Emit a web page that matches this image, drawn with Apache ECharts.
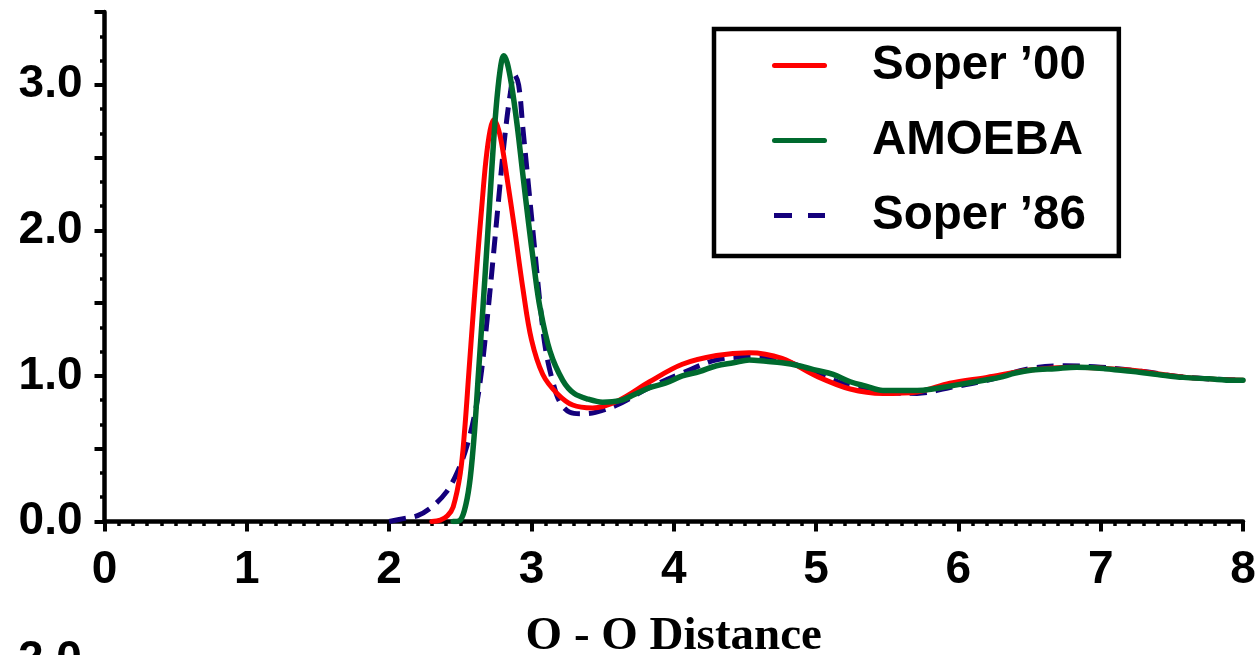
<!DOCTYPE html>
<html>
<head>
<meta charset="utf-8">
<script src="https://cdn.jsdelivr.net/npm/echarts@6/dist/echarts.min.js"></script>
<style>
html,body{margin:0;padding:0;background:#fff;}
#chart{width:1258px;height:655px;}
</style>
</head>
<body>
<div id="chart"></div>
<script>
// Soper '00 (red)
var soper00R = [2.30, 2.36, 2.41, 2.45, 2.50, 2.53, 2.56, 2.59, 2.62, 2.65, 2.68, 2.71, 2.735, 2.76, 2.79, 2.83, 2.88, 2.94, 3.00, 3.08, 3.18, 3.29, 3.43, 3.61, 3.83, 4.06, 4.30, 4.53, 4.76, 5.00, 5.24, 5.47, 5.71, 5.94, 6.20, 6.50, 6.80, 7.20, 7.60, 8.00];
var soper00G = [0.00, 0.01, 0.04, 0.10, 0.33, 0.62, 1.02, 1.42, 1.80, 2.15, 2.48, 2.69, 2.76, 2.72, 2.60, 2.35, 2.02, 1.60, 1.25, 1.01, 0.88, 0.80, 0.78, 0.83, 0.96, 1.08, 1.14, 1.16, 1.12, 1.00, 0.91, 0.88, 0.89, 0.95, 0.99, 1.04, 1.06, 1.04, 0.99, 0.97];

// AMOEBA (green)
var amoebaR = [2.45, 2.50, 2.54, 2.57, 2.60, 2.63, 2.66, 2.69, 2.72, 2.75, 2.78, 2.805, 2.83, 2.86, 2.90, 2.94, 2.98, 3.02, 3.06, 3.13, 3.22, 3.30, 3.40, 3.50, 3.62, 3.72, 3.83, 3.94, 4.06, 4.18, 4.30, 4.42, 4.53, 4.65, 4.76, 4.88, 5.00, 5.12, 5.24, 5.35, 5.47, 5.59, 5.71, 5.82, 5.94, 6.06, 6.18, 6.29, 6.40, 6.52, 6.68, 6.83, 7.03, 7.23, 7.40, 7.58, 7.76, 7.93, 8.00];
var amoebaG = [0.00, 0.01, 0.12, 0.30, 0.62, 1.05, 1.48, 1.93, 2.40, 2.82, 3.10, 3.20, 3.15, 3.00, 2.72, 2.38, 2.05, 1.74, 1.47, 1.17, 0.97, 0.88, 0.84, 0.82, 0.83, 0.87, 0.92, 0.95, 1.00, 1.03, 1.07, 1.09, 1.11, 1.10, 1.09, 1.07, 1.04, 1.01, 0.96, 0.93, 0.90, 0.90, 0.90, 0.91, 0.93, 0.95, 0.97, 0.99, 1.02, 1.04, 1.05, 1.06, 1.05, 1.03, 1.01, 0.99, 0.98, 0.97, 0.97];

// Soper '86 (navy, dashed)
var soper86R = [2.00, 2.10, 2.20, 2.30, 2.40, 2.48, 2.55, 2.61, 2.65, 2.69, 2.73, 2.77, 2.81, 2.85, 2.88, 2.91, 2.94, 2.98, 3.02, 3.06, 3.10, 3.15, 3.20, 3.27, 3.35, 3.45, 3.60, 3.83, 4.06, 4.30, 4.53, 4.76, 5.00, 5.24, 5.47, 5.71, 5.94, 6.20, 6.50, 6.75, 7.00, 7.30, 7.60, 8.00];
var soper86G = [0.00, 0.02, 0.04, 0.10, 0.20, 0.34, 0.53, 0.78, 1.04, 1.40, 1.80, 2.22, 2.62, 2.93, 3.07, 3.00, 2.70, 2.30, 1.90, 1.50, 1.18, 0.96, 0.82, 0.75, 0.74, 0.75, 0.80, 0.92, 1.02, 1.11, 1.13, 1.11, 1.02, 0.93, 0.89, 0.88, 0.92, 0.97, 1.05, 1.07, 1.06, 1.03, 0.99, 0.97];

// tick labels
var xTicks = [0, 1, 2, 3, 4, 5, 6, 7, 8];
var yTicks = [0.0, 1.0, 2.0, 3.0];

var seriesNames = ["Soper \u201900", "AMOEBA", "Soper \u201986"];

function pairs(xs, ys) { return xs.map(function (x, i) { return [x, ys[i]]; }); }

var labelFont = { fontFamily: 'Liberation Sans, Arial, sans-serif', fontWeight: 'bold', fontSize: 46, color: '#000' };
var solidIcon = 'path://M2.5,0 H52.5 A2.5,2.5 0 0 1 52.5,5 H2.5 A2.5,2.5 0 0 1 2.5,0 Z';
var dashIcon = 'path://M0,0 H18 V5 H0 Z M34,0 H51 V5 H34 Z';

var chart = echarts.init(document.getElementById('chart'), null, { renderer: 'canvas' });
chart.setOption({
  animation: false,
  backgroundColor: '#ffffff',
  grid: { left: 104.5, right: 15, top: 12, bottom: 133.5, containLabel: false, outerBoundsMode: 'none' },
  xAxis: {
    type: 'value', min: 0, max: 8, interval: 1,
    name: 'O - O Distance', nameLocation: 'middle', nameGap: 92,
    nameTextStyle: { fontFamily: 'Liberation Serif, Times New Roman, serif', fontWeight: 'bold', fontSize: 47, color: '#000' },
    axisLine: { show: true, onZero: false, lineStyle: { color: '#000', width: 4.5 } },
    axisTick: { show: true, inside: false, length: 10, lineStyle: { color: '#000', width: 4 } },
    minorTick: { show: true, splitNumber: 10, length: 4.5, lineStyle: { color: '#000', width: 3.5 } },
    splitLine: { show: false },
    axisLabel: Object.assign({ margin: 26, formatter: function (v) { return xTicks.indexOf(v) >= 0 ? String(v) : ''; } }, labelFont)
  },
  yAxis: {
    type: 'value', min: 0, max: 3.5, interval: 0.5,
    axisLine: { show: true, onZero: false, lineStyle: { color: '#000', width: 4.5 } },
    axisTick: { show: true, inside: false, length: 10, lineStyle: { color: '#000', width: 4 } },
    minorTick: { show: true, splitNumber: 3, length: 4.5, lineStyle: { color: '#000', width: 3.5 } },
    splitLine: { show: false },
    axisLabel: Object.assign({ margin: 22, formatter: function (v) { return yTicks.indexOf(v) >= 0 ? v.toFixed(1) : ''; } }, labelFont)
  },
  legend: {
    show: true,
    orient: 'vertical', left: 714, top: 29,
    padding: [11, 33, 15, 58],
    borderColor: '#000', borderWidth: 4.5, backgroundColor: '#fff',
    itemWidth: 55, itemHeight: 5, itemGap: 24,
    textStyle: { fontFamily: 'Liberation Sans, Arial, sans-serif', fontWeight: 'bold', fontSize: 47.5, color: '#000', lineHeight: 51, padding: [0, 0, 0, 40] },
    data: [
      { name: seriesNames[0], icon: solidIcon },
      { name: seriesNames[1], icon: solidIcon },
      { name: seriesNames[2], icon: dashIcon }
    ]
  },
  series: [
    { name: seriesNames[0], type: 'line', data: pairs(soper00R, soper00G), showSymbol: false, symbol: 'none', smooth: 0.35, z: 3,
      lineStyle: { color: '#ff0000', width: 5, cap: 'round', join: 'round' }, itemStyle: { color: '#ff0000' } },
    { name: seriesNames[1], type: 'line', data: pairs(amoebaR, amoebaG), showSymbol: false, symbol: 'none', smooth: 0.35, z: 4,
      lineStyle: { color: '#006a2e', width: 5.5, cap: 'round', join: 'round' }, itemStyle: { color: '#006a2e' } },
    { name: seriesNames[2], type: 'line', data: pairs(soper86R, soper86G), showSymbol: false, symbol: 'none', smooth: 0.35, z: 2,
      lineStyle: { color: '#14007c', width: 5, type: [17, 9] }, itemStyle: { color: '#14007c' } }
  ],
  graphic: [
    { type: 'text', left: 18, top: 637, style: { text: '2.0', font: 'bold 46px "Liberation Sans", Arial, sans-serif', fill: '#000' } }
  ]
});
</script>
</body>
</html>
